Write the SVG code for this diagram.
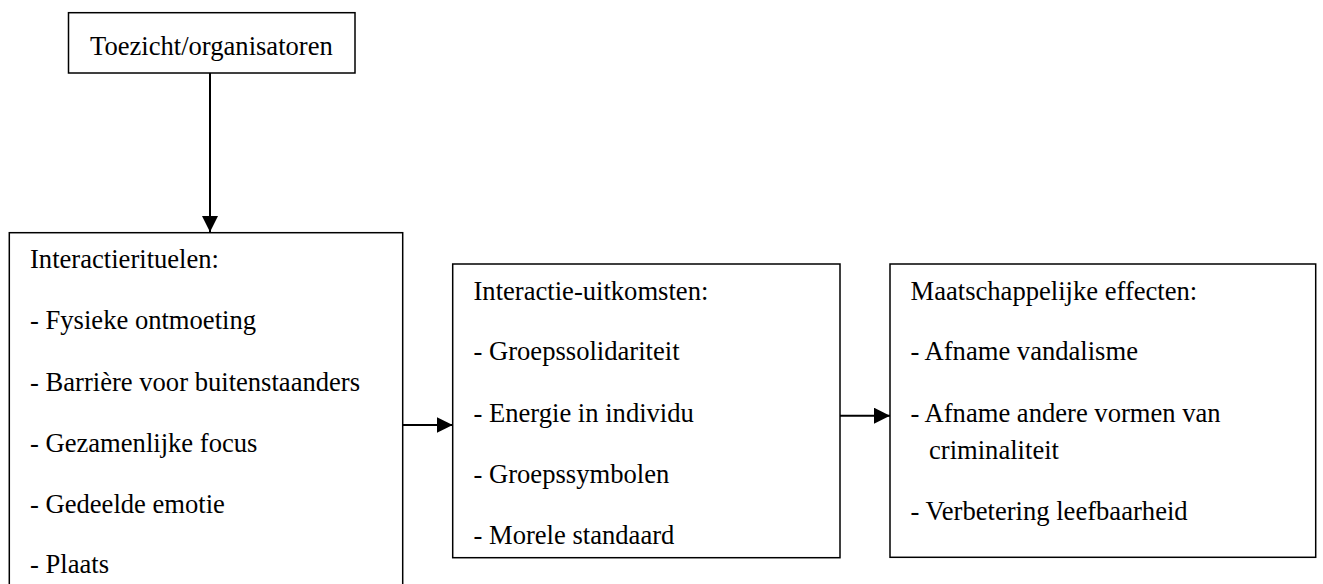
<svg xmlns="http://www.w3.org/2000/svg" width="1323" height="584" viewBox="0 0 1323 584">
<style>
.box{fill:#fff;stroke:#000;stroke-width:1.5}
.t{font-family:"Liberation Serif","Times New Roman",serif;font-size:26.6px;fill:#000}
.c{stroke:#000;stroke-width:2;fill:none}
</style>
<defs>
<marker id="ah" viewBox="0 0 16 16" refX="16" refY="8" markerWidth="16" markerHeight="16" markerUnits="userSpaceOnUse" orient="auto">
<path d="M0,0 L16,8 L0,16 Z" fill="#000"/>
</marker>
</defs>
<rect width="1323" height="584" fill="#fff"/>
<g id="toezicht">
<rect class="box" x="68.5" y="12.7" width="286.5" height="60.3"/>
<text class="t" x="90" y="55">Toezicht/organisatoren</text>
</g>
<g id="interactierituelen">
<rect class="box" x="9.3" y="232.7" width="393.4" height="380"/>
<text class="t" x="30" y="268">Interactierituelen:</text>
<text class="t" x="30" y="328.5">- Fysieke ontmoeting</text>
<text class="t" x="30" y="390.5">- Barrière voor buitenstaanders</text>
<text class="t" x="30" y="451.5">- Gezamenlijke focus</text>
<text class="t" x="30" y="512.5">- Gedeelde emotie</text>
<text class="t" x="30" y="573">- Plaats</text>
</g>
<g id="uitkomsten">
<rect class="box" x="452.7" y="264" width="387.3" height="293.7"/>
<text class="t" x="473.5" y="299.5">Interactie-uitkomsten:</text>
<text class="t" x="473.5" y="359.5">- Groepssolidariteit</text>
<text class="t" x="473.5" y="421.5">- Energie in individu</text>
<text class="t" x="473.5" y="482.5">- Groepssymbolen</text>
<text class="t" x="473.5" y="544">- Morele standaard</text>
</g>
<g id="effecten">
<rect class="box" x="890" y="264" width="425.7" height="293.3"/>
<text class="t" x="910.5" y="300">Maatschappelijke effecten:</text>
<text class="t" x="910.5" y="360">- Afname vandalisme</text>
<text class="t" x="910.5" y="421.5">- Afname andere vormen van</text>
<text class="t" x="929" y="458.5">criminaliteit</text>
<text class="t" x="910.5" y="519.5">- Verbetering leefbaarheid</text>
</g>
<g id="connectors">
<line class="c" x1="210" y1="73" x2="210" y2="232" marker-end="url(#ah)"/>
<line class="c" x1="402.7" y1="425" x2="452.7" y2="425" marker-end="url(#ah)"/>
<line class="c" x1="840" y1="415.7" x2="890" y2="415.7" marker-end="url(#ah)"/>
</g>
</svg>
